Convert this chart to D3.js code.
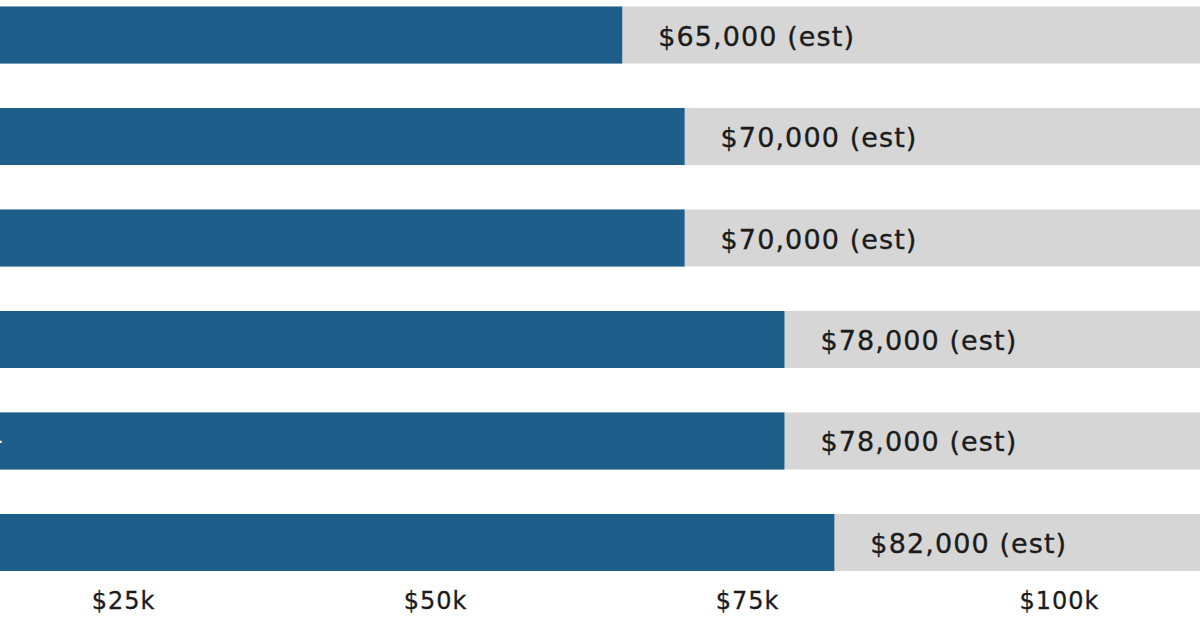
<!DOCTYPE html>
<html>
<head>
<meta charset="utf-8">
<script src="https://cdn.jsdelivr.net/npm/d3@7/dist/d3.min.js"></script>
<style>
    html, body { margin: 0; padding: 0; background: #fff; }
    svg { display: block; font-family: "DejaVu Sans", "Noto Sans", sans-serif; }
</style>
</head>
<body>
<svg id="chart" width="1200" height="640"></svg>
<script>
'use strict';

// rows, top to bottom
var categories = ['Junior', 'Associate', 'Mid-level', 'Senior', 'Senior Lead+', 'Principal'],
    salaries = [65000, 70000, 70000, 78000, 78000, 82000],
    valueLabels = ['$65,000 (est)', '$70,000 (est)', '$70,000 (est)', '$78,000 (est)', '$78,000 (est)', '$82,000 (est)'],
    tickValues = [25000, 50000, 75000, 100000],
    tickLabels = ['$25k', '$50k', '$75k', '$100k'],
    trackMax = 115000;

var BLUE = '#1d5e8a',
    GRAY = '#d6d6d6',
    INK = '#1b1b1b';

var svg = d3.select('#chart');

// the chart is cropped on the left: zero sits off-canvas
var x = d3.scaleLinear()
    .domain([0, 100000])
    .range([-189, 1059]);

var y = d3.scaleBand()
    .domain(categories)
    .range([6.5, 571])
    .paddingInner(0.438)
    .paddingOuter(0);

var rows = svg.append('g')
    .attr('class', 'rows')
    .selectAll('g.row')
    .data(categories.map(function(c, i) {
        return { cat: c, value: salaries[i], label: valueLabels[i] };
    }))
    .enter().append('g')
        .attr('class', 'row');

rows.append('rect')
    .attr('class', 'track')
    .attr('x', x(0))
    .attr('y', function(d) { return y(d.cat); })
    .attr('width', x(trackMax) - x(0))
    .attr('height', y.bandwidth())
    .attr('fill', GRAY);

rows.append('rect')
    .attr('class', 'bar')
    .attr('x', x(0))
    .attr('y', function(d) { return y(d.cat); })
    .attr('width', function(d) { return x(d.value) - x(0); })
    .attr('height', y.bandwidth())
    .attr('fill', BLUE);

// category names inside the bars (mostly cut off by the crop)
rows.append('text')
    .attr('class', 'cat')
    .attr('x', x(0) + 18)
    .attr('y', function(d) { return y(d.cat) + y.bandwidth() / 2; })
    .attr('dominant-baseline', 'central')
    .attr('fill', '#fff')
    .style('font-size', '26px')
    .text(function(d) { return d.cat; });

rows.append('text')
    .attr('class', 'value')
    .attr('x', function(d) { return x(d.value) + 36; })
    .attr('y', function(d) { return y(d.cat) + y.bandwidth() / 2 + 1; })
    .attr('dominant-baseline', 'central')
    .attr('fill', INK)
    .attr('stroke', INK)
    .attr('stroke-width', 0.35)
    .style('font-size', '27px')
    .style('letter-spacing', '1.1px')
    .text(function(d) { return d.label; });

var xAxis = d3.axisBottom(x)
    .tickValues(tickValues)
    .tickFormat(function(d, i) { return tickLabels[i]; })
    .tickSize(0)
    .tickPadding(0);

var gx = svg.append('g')
    .attr('class', 'x axis')
    .attr('transform', 'translate(0,592)')
    .call(xAxis);

gx.select('.domain').remove();
gx.selectAll('text')
    .attr('dy', '0.71em')
    .attr('fill', INK)
    .attr('stroke', INK)
    .attr('stroke-width', 0.3)
    .style('font-family', '"DejaVu Sans", "Noto Sans", sans-serif')
    .style('font-size', '24px')
    .style('letter-spacing', '1px');
</script>
</body>
</html>
